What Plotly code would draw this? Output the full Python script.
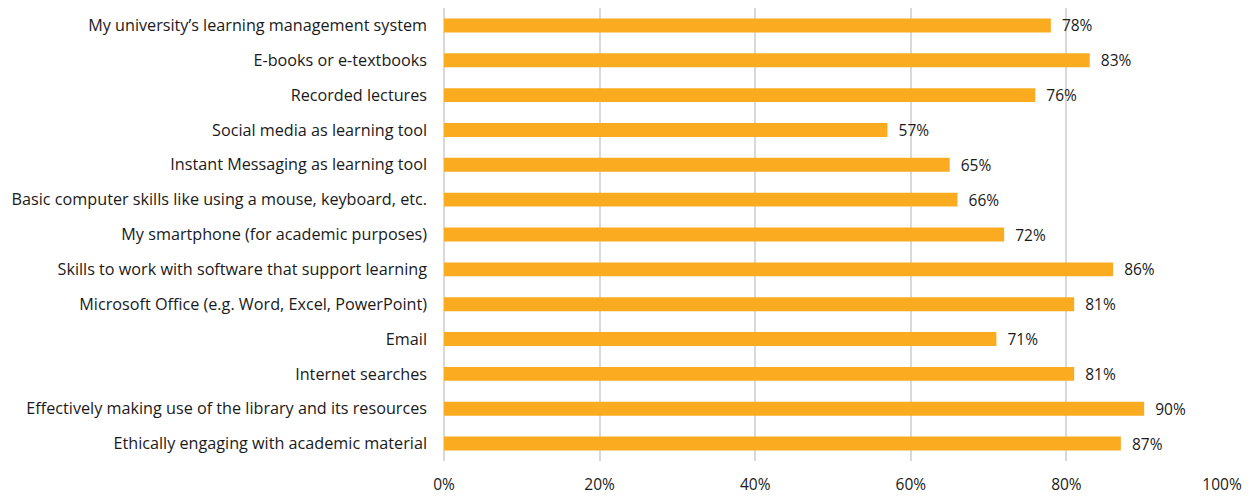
import plotly.graph_objects as go

categories = [
    "My university\u2019s learning management system",
    "E-books or e-textbooks",
    "Recorded lectures",
    "Social media as learning tool",
    "Instant Messaging as learning tool",
    "Basic computer skills like using a mouse, keyboard, etc.",
    "My smartphone (for academic purposes)",
    "Skills to work with software that support learning",
    "Microsoft Office (e.g. Word, Excel, PowerPoint)",
    "Email",
    "Internet searches",
    "Effectively making use of the library and its resources",
    "Ethically engaging with academic material",
]
values = [78, 83, 76, 57, 65, 66, 72, 86, 81, 71, 81, 90, 87]
tick_vals = [0, 20, 40, 60, 80, 100]
tick_text = ["0%", "20%", "40%", "60%", "80%", "100%"]

font = "'Open Sans', sans-serif"

fig = go.Figure(go.Bar(
    x=values,
    y=categories,
    orientation="h",
    marker=dict(color="#FAAB1F", line=dict(width=0)),
    text=[f"  {v}%" for v in values],
    textposition="outside",
    constraintext="none",
    textfont=dict(family=font, size=15.5, color="#1A1A1A"),
    cliponaxis=False,
))

fig.update_layout(
    width=1255, height=497,
    margin=dict(l=436, r=41, t=0, b=44, autoexpand=False),
    paper_bgcolor="white", plot_bgcolor="white",
    bargap=0.6,
    showlegend=False,
    font=dict(family=font, size=16, color="#1A1A1A"),
)
fig.update_xaxes(
    range=[0, 100], tickvals=tick_vals, ticktext=tick_text,
    showgrid=True, gridcolor="#D9D9D9", gridwidth=2,
    zeroline=True, zerolinecolor="#D9D9D9", zerolinewidth=2,
    showline=False, ticks="", ticklabelstandoff=12, automargin=False,
    tickfont=dict(family=font, size=15.5, color="#1A1A1A"),
)
fig.update_yaxes(
    autorange="reversed", showgrid=False, showline=False, ticks="",
    ticklabelstandoff=16, automargin=False,
    tickfont=dict(family=font, size=16.2, color="#1A1A1A"),
)

fig.write_html("out.html")
